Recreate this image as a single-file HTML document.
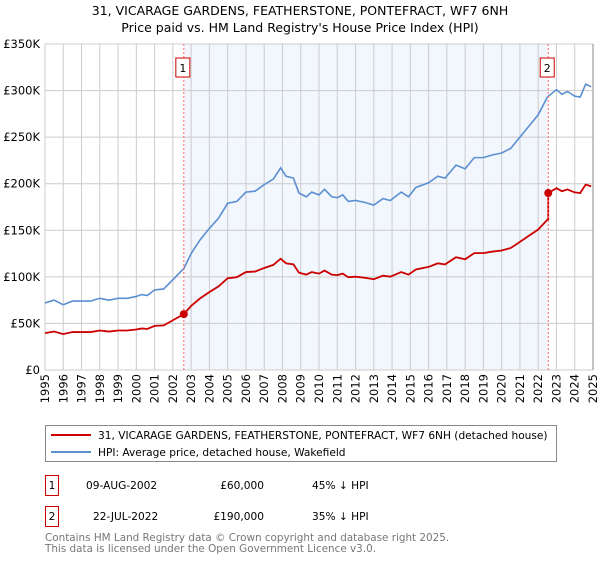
<!DOCTYPE html>
<html><head><meta charset="utf-8"><style>
body{margin:0;background:#fff;font-family:"Liberation Sans","DejaVu Sans",sans-serif}
svg text{font-family:"DejaVu Sans","Liberation Sans",sans-serif}
</style></head><body>
<svg id="c" width="600" height="560" xmlns="http://www.w3.org/2000/svg">
<text x="300" y="15" text-anchor="middle" font-size="12.5">31, VICARAGE GARDENS, FEATHERSTONE, PONTEFRACT, WF7 6NH</text>
<text x="300" y="32" text-anchor="middle" font-size="12.5">Price paid vs. HM Land Registry's House Price Index (HPI)</text>
<g id="plot"></g>
<rect x="45.5" y="425.5" width="511" height="36" fill="#fff" stroke="#888"/>
<line x1="51" y1="435" x2="91" y2="435" stroke="#cc0000" stroke-width="2"/>
<text x="98" y="439" font-size="10.6">31, VICARAGE GARDENS, FEATHERSTONE, PONTEFRACT, WF7 6NH (detached house)</text>
<line x1="51" y1="452" x2="91" y2="452" stroke="#5b8fd0" stroke-width="2"/>
<text x="98" y="456" font-size="10.6">HPI: Average price, detached house, Wakefield</text>
<g>
<rect x="45.5" y="475.5" width="13" height="20" fill="none" stroke="#cc0000"/>
<text x="52" y="489" font-size="10.6" text-anchor="middle">1</text>
<text x="86" y="489" font-size="10.6">09-AUG-2002</text>
<text x="264" y="489" font-size="10.6" text-anchor="end">£60,000</text>
<text x="312" y="489" font-size="10.6">45% ↓ HPI</text></g>
<g>
<rect x="45.5" y="506.5" width="13" height="20" fill="none" stroke="#cc0000"/>
<text x="52" y="520" font-size="10.6" text-anchor="middle">2</text>
<text x="93" y="520" font-size="10.6">22-JUL-2022</text>
<text x="264" y="520" font-size="10.6" text-anchor="end">£190,000</text>
<text x="312" y="520" font-size="10.6">35% ↓ HPI</text></g>
<text x="45" y="541" font-size="10.4" fill="#777">Contains HM Land Registry data © Crown copyright and database right 2025.</text>
<text x="45" y="552" font-size="10.4" fill="#777">This data is licensed under the Open Government Licence v3.0.</text>
</svg>
<script>
const hpiYears=[1995,1995.5,1996,1996.5,1997,1997.5,1998,1998.5,1999,1999.5,2000,2000.3,2000.6,2001,2001.5,2002,2002.6,2003,2003.5,2004,2004.5,2005,2005.5,2006,2006.5,2007,2007.5,2007.9,2008.2,2008.6,2008.9,2009.3,2009.6,2010,2010.3,2010.7,2011,2011.3,2011.6,2012,2012.5,2013,2013.5,2013.9,2014.5,2014.9,2015.3,2016,2016.5,2016.9,2017.5,2018,2018.5,2019,2019.5,2020,2020.5,2021,2021.5,2022,2022.5,2023,2023.3,2023.6,2024,2024.3,2024.6,2024.9];
const hpiValues=[72,75,70,74,74,74,77,75,77,77,79,81,80,86,87,97,109,125,140,152,163,179,181,191,192,199,205,217,208,206,190,186,191,188,194,186,185,188,181,182,180,177,184,182,191,186,196,201,208,206,220,216,228,228,231,233,238,250,262,274,293,301,296,299,294,293,307,304];
const saleYears=[2002.6,2022.55];
const salePrices=[60,190];
const saleHpi=[109,293];
const yTicks=[0,50,100,150,200,250,300,350];
const yTickLabels=["£0","£50K","£100K","£150K","£200K","£250K","£300K","£350K"];
const xTicks=[1995,1996,1997,1998,1999,2000,2001,2002,2003,2004,2005,2006,2007,2008,2009,2010,2011,2012,2013,2014,2015,2016,2017,2018,2019,2020,2021,2022,2023,2024,2025];
const NS="http://www.w3.org/2000/svg";
const L=45,R=593,T=44,B=370;
const xs=y=>L+(y-1995)/30*(R-L);
const ys=v=>B-v/350*(B-T);
const g=document.getElementById('plot');
function el(t,a){const e=document.createElementNS(NS,t);for(const k in a)e.setAttribute(k,a[k]);g.appendChild(e);return e;}
const sh=el('rect',{x:xs(saleYears[0]),y:T,width:xs(saleYears[1])-xs(saleYears[0]),height:B-T,fill:'#eef3fc',opacity:0.75});


xTicks.forEach(t=>{
 const l=el('line',{x1:xs(t),x2:xs(t),y1:T,y2:B,stroke:'#cccccc'});
 
 
 const tx=el('text',{x:0,y:0,'font-size':11.5,'text-anchor':'end',transform:`translate(${xs(t)+4},${B+4}) rotate(-90)`});
 tx.textContent=t;
 
 
});
yTicks.forEach((t,i)=>{
 const l=el('line',{x1:L,x2:R,y1:ys(t),y2:ys(t),stroke:'#cccccc'});
 
 
 const tx=el('text',{x:L-5,y:ys(t)+4,'font-size':11.5,'text-anchor':'end'});
 tx.textContent=yTickLabels[i];
 
 
});
const ax=el('line',{x1:R,x2:R,y1:T,y2:B,stroke:'#888'});


const hp=el('polyline',{points:hpiYears.map((y,i)=>xs(y)+','+ys(hpiValues[i])).join(' '),fill:'none',stroke:'#5b8fd0','stroke-width':1.6});


const pts=[];
hpiYears.forEach((y,i)=>{
 let k=0; if(y>=saleYears[1])k=1;
 if(i>0&&hpiYears[i-1]<saleYears[1]&&y>=saleYears[1]){
  pts.push(xs(saleYears[1])+','+ys(saleHpi[1]*salePrices[0]/saleHpi[0]));
  pts.push(xs(saleYears[1])+','+ys(salePrices[1]));
 }
 pts.push(xs(y)+','+ys(hpiValues[i]*salePrices[k]/saleHpi[k]));
});
const pl=el('polyline',{points:pts.join(' '),fill:'none',stroke:'#cc0000','stroke-width':1.8});


saleYears.forEach((y,i)=>{
 const v=el('line',{x1:xs(y),x2:xs(y),y1:T,y2:B,stroke:'#ff6666','stroke-dasharray':'2,2'});
 
 
 const c=el('circle',{cx:xs(y),cy:ys(salePrices[i]),r:4,fill:'#cc0000'});
 
 
 const b=el('rect',{x:xs(y)-8,y:58,width:14,height:19,fill:'#fff',stroke:'#cc0000'});
 
 
 const t=el('text',{x:xs(y)-1,y:72,'font-size':11,'text-anchor':'middle'});
 t.textContent=i+1;
 
 
});
</script>
</body></html>
